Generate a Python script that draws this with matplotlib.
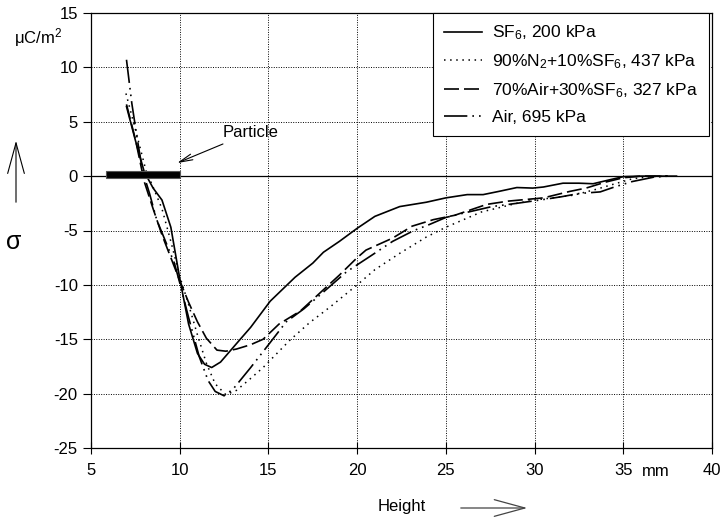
import matplotlib
matplotlib.use('Agg')
from matplotlib import pyplot as plt
from matplotlib.patches import Rectangle, FancyArrowPatch

plt.rcParams['font.family'] = ['Liberation Sans', 'DejaVu Sans']
plt.rcParams['mathtext.default'] = 'regular'
plt.rcParams['axes.unicode_minus'] = False

##data
sf6_x = [7.0, 7.5, 8.0, 8.5, 9.0, 9.5, 10.0, 10.5, 11.0, 11.4, 11.8, 12.3, 13.2, 14.0, 15.1, 16.5, 17.5,
         18.1, 19.0, 20.0, 21.0, 22.4, 23.9, 25.0, 26.2, 27.1, 28.0, 29.0, 29.9, 30.5, 31.6, 32.5, 33.3,
         34.2, 35.0, 36.0, 38.0]
sf6_y = [6.4, 3.3, 0.4, -1.1, -2.2, -4.7, -9.4, -13.6, -16.3, -17.3, -17.6, -17.1, -15.4, -13.9, -11.5,
         -9.3, -8.0, -7.0, -6.0, -4.8, -3.7, -2.8, -2.4, -2.0, -1.7, -1.7, -1.4, -1.05, -1.1, -1.0, -0.65,
         -0.65, -0.7, -0.35, -0.05, 0.0, 0.0]

n2_x = [6.97, 7.5, 8.1, 8.5, 9.0, 9.5, 10.0, 10.5, 11.0, 11.5, 12.0, 12.6, 13.2, 14.0, 14.7, 16.2, 17.3,
        18.5, 20.0, 21.0, 22.4, 23.9, 25.0, 26.0, 27.0, 28.0, 29.0, 30.0, 31.0, 32.2, 33.5, 34.6, 35.5,
        36.5, 37.5]
n2_y = [7.6, 4.3, 0.5, -1.0, -3.0, -6.0, -9.2, -11.8, -14.6, -17.2, -19.1, -20.1, -19.7, -18.6, -17.6,
        -15.1, -13.5, -12.0, -10.0, -8.6, -7.1, -5.6, -4.7, -4.0, -3.3, -2.9, -2.5, -2.2, -2.0, -1.75, -1.2,
        -0.67, -0.25, -0.05, 0.0]

air30_x = [7.0, 7.5, 8.0, 8.5, 9.0, 9.5, 10.0, 10.5, 11.0, 11.5, 12.1, 12.6, 13.2, 14.0, 14.7, 15.6,
           16.8, 18.0, 19.0, 20.0, 20.5, 22.0, 23.1, 24.3, 25.5, 27.3, 28.5, 30.5, 32.0, 32.9, 34.0, 35.0,
           36.0, 37.5]
air30_y = [6.6, 3.4, -0.5, -3.0, -5.4, -7.5, -9.6, -11.6, -13.4, -14.9, -16.0, -16.1, -15.9, -15.5,
           -15.0, -13.6, -12.4, -10.6, -9.1, -7.5, -6.8, -5.7, -4.6, -4.0, -3.6, -2.6, -2.3, -2.0, -1.4,
           -1.1, -0.55, -0.15, 0.0, 0.0]

air_x = [7.0, 7.3, 7.6, 7.9, 8.3, 8.7, 9.2, 9.7, 10.0, 10.5, 11.1, 11.6, 12.0, 12.5, 13.0, 14.0, 15.1,
         16.0, 17.0, 18.0, 19.4, 20.8, 22.0, 23.2, 24.0, 25.0, 26.0, 27.6, 29.0, 30.3, 31.5, 32.5, 33.7,
         34.5, 35.5, 36.7, 37.5]
air_y = [10.7, 6.7, 3.5, 0.5, -1.6, -4.0, -6.0, -8.0, -9.8, -13.0, -16.6, -18.8, -19.8, -20.2, -19.6,
         -17.6, -15.3, -13.4, -12.2, -10.8, -8.8, -7.3, -6.0, -5.0, -4.5, -3.8, -3.4, -2.8, -2.5, -2.2,
         -1.9, -1.6, -1.45, -1.0, -0.5, -0.1, 0.0]

labels = ['SF$_6$, 200 kPa', '90%N$_2$+10%SF$_6$, 437 kPa', '70%Air+30%SF$_6$, 327 kPa', 'Air, 695 kPa']
xticks = [5, 10, 15, 20, 25, 30, 35, 40]
yticks = [15, 10, 5, 0, -5, -10, -15, -20, -25]

fig = plt.figure(figsize=(7.25, 5.23), dpi=100)
ax = fig.add_axes([91 / 725, 1 - 448 / 523, 621 / 725, 435 / 523])

ax.plot(sf6_x, sf6_y, color='black', lw=1.2, ls='-', label=labels[0])
ax.plot(n2_x, n2_y, color='black', lw=1.1, ls=(0, (1, 3)), label=labels[1])
ax.plot(air30_x, air30_y, color='black', lw=1.2, ls=(0, (9, 3)), label=labels[2])
ax.plot(air_x, air_y, color='black', lw=1.2, ls=(0, (14, 3, 1, 3, 1, 3)), label=labels[3])

ax.set_xlim(5, 40)
ax.set_ylim(-25, 15)
ax.set_xticks(xticks)
ax.set_yticks(yticks)
ax.grid(True, color='black', ls=(0, (1, 1.5)), lw=0.7)
ax.axhline(0, color='black', lw=0.9)
ax.tick_params(axis='x', direction='inout', length=8, labelsize=12, pad=7)
ax.tick_params(axis='y', direction='out', length=6, labelsize=12)
for s in ax.spines.values():
    s.set_linewidth(0.9)

# particle
ax.add_patch(Rectangle((5.85, -0.18), 4.15, 0.64, facecolor='black', edgecolor='#555555', lw=0.8, zorder=5))
ax.annotate('Particle', xy=(9.85, 1.2), xytext=(12.4, 4.0), fontsize=12, va='center', ha='left',
            arrowprops=dict(arrowstyle='->, head_length=0.8, head_width=0.18', color='black', lw=0.8,
                            shrinkA=2, shrinkB=0))

leg = ax.legend(loc='upper right', bbox_to_anchor=(0.995, 1.0), borderaxespad=0, fontsize=12.5,
                fancybox=False, edgecolor='black', framealpha=1, handlelength=2.2, labelspacing=0.58,
                borderpad=0.62, handletextpad=0.6)
leg.get_frame().set_linewidth(0.8)

fig.text(38 / 725, 1 - 38 / 523, 'μC/m$^2$', fontsize=12, ha='center', va='center')
fig.text(14 / 725, 1 - 242 / 523, 'σ', fontsize=18, ha='center', va='center')
fig.text(656 / 725, 1 - 471 / 523, 'mm', fontsize=12, ha='center', va='center')
fig.text(402 / 725, 1 - 507 / 523, 'Height', fontsize=12, ha='center', va='center')

fig.patches.append(FancyArrowPatch(
    (16 / 725, 1 - 205 / 523), (16 / 725, 1 - 138 / 523), transform=fig.transFigure,
    arrowstyle='->, head_length=2.2, head_width=0.6', mutation_scale=10, color='black', lw=0.8))
fig.patches.append(FancyArrowPatch(
    (458 / 725, 1 - 508 / 523), (530 / 725, 1 - 508 / 523), transform=fig.transFigure,
    arrowstyle='->, head_length=2.2, head_width=0.6', mutation_scale=10, color='#444444', lw=0.9))

plt.savefig('out.png', dpi=100)
